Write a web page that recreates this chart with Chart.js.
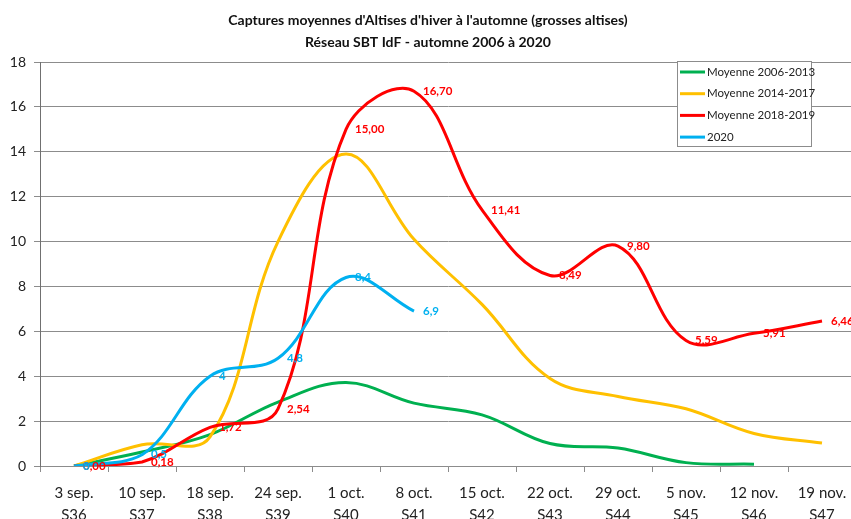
<!DOCTYPE html>
<html>
<head>
<meta charset="utf-8">
<script src="https://cdn.jsdelivr.net/npm/chart.js@4.4.1/dist/chart.umd.min.js"></script>
<style>
  html, body { margin: 0; padding: 0; background: #fff; overflow: hidden; }
</style>
</head>
<body>
<canvas id="myChart" width="860" height="530"></canvas>
<script>
// DATA ----------------------------------------
const semaines = [
    ["3 sep.", "S36"], ["10 sep.", "S37"], ["18 sep.", "S38"], ["24 sep.", "S39"],
    ["1 oct.", "S40"], ["8 oct.", "S41"], ["15 oct.", "S42"], ["22 oct.", "S43"],
    ["29 oct.", "S44"], ["5 nov.", "S45"], ["12 nov.", "S46"], ["19 nov.", "S47"]
];
const moy2006_2013 = [0, 0.62, 1.4, 2.85, 3.72, 2.8, 2.28, 1.0, 0.8, 0.15, 0.08, null];
const moy2014_2017 = [0, 0.95, 1.3, 10.0, 13.9, 10.1, 7.2, 3.9, 3.1, 2.55, 1.45, 1.02];
const moy2018_2019 = [0, 0.18, 1.72, 2.54, 15.0, 16.7, 11.41, 8.49, 9.8, 5.59, 5.91, 6.46];
const an2020 = [0, 0.5, 4, 4.8, 8.4, 6.9, null, null, null, null, null, null];
const yTicks = [0, 2, 4, 6, 8, 10, 12, 14, 16, 18];

const FONT = "Lato, 'Open Sans', sans-serif";

// valeurs en francais (virgule)
const fmt2 = v => v.toFixed(2).replace('.', ',');
const fmt1 = v => String(v).replace('.', ',');

// etiquettes de valeurs, a droite du point
const valueLabels = {
    id: 'valueLabels',
    afterDatasetsDraw(chart) {
        const c = chart.ctx;
        c.save();
        c.font = "bold 11.5px " + FONT;
        c.textAlign = 'left';
        c.textBaseline = 'middle';
        // rouge d'abord, bleu par dessus
        [2, 3].forEach(di => {
            const ds = chart.data.datasets[di];
            const meta = chart.getDatasetMeta(di);
            c.fillStyle = ds.borderColor;
            meta.data.forEach((pt, i) => {
                const v = ds.data[i];
                if (v === null || v === undefined) return;
                c.fillText(ds.fmt(v), pt.x + 9, pt.y);
            });
        });
        c.restore();
    }
};

// legende dans un cadre en haut a droite
const boxLegend = {
    id: 'boxLegend',
    afterDraw(chart) {
        const c = chart.ctx;
        const x = 677, y = 61, w = 134, h = 85;
        c.save();
        c.fillStyle = '#fff';
        c.fillRect(x, y, w, h);
        c.strokeStyle = '#8c8c8c';
        c.lineWidth = 1;
        c.strokeRect(x + 0.5, y + 0.5, w, h);
        c.font = "11.5px " + FONT;
        c.textBaseline = 'middle';
        c.textAlign = 'left';
        chart.data.datasets.forEach((ds, i) => {
            const ly = y + 11 + i * 21.7;
            c.strokeStyle = ds.borderColor;
            c.lineWidth = 3;
            c.beginPath();
            c.moveTo(x + 3, ly);
            c.lineTo(x + 28, ly);
            c.stroke();
            c.fillStyle = '#222';
            c.fillText(ds.label, x + 30, ly);
        });
        c.restore();
    }
};

function serie(label, data, color, order, fmt) {
    return {
        label: label,
        data: data,
        borderColor: color,
        backgroundColor: color,
        borderWidth: 3,
        pointRadius: 0,
        tension: 0.38,
        spanGaps: false,
        order: order,
        fmt: fmt
    };
}

const ctx = document.getElementById('myChart');
const chart = new Chart(ctx, {
    type: 'line',
    data: {
        labels: semaines,
        datasets: [
            serie('Moyenne 2006-2013', moy2006_2013, '#00B050', 3, fmt2),
            serie('Moyenne 2014-2017', moy2014_2017, '#FFC000', 2, fmt2),
            serie('Moyenne 2018-2019', moy2018_2019, '#FF0000', 1, fmt2),
            serie('2020', an2020, '#00B0F0', 0, fmt1)
        ]
    },
    options: {
        responsive: false,
        animation: false,
        layout: { padding: { left: 0, right: 4, top: 0, bottom: 0 } },
        plugins: {
            legend: { display: false },
            tooltip: { enabled: false },
            title: {
                display: true,
                text: ["Captures moyennes d'Altises d'hiver à l'automne (grosses altises)",
                       "Réseau SBT IdF - automne 2006 à 2020"],
                color: '#111',
                font: { family: FONT, size: 14, weight: 'bold', lineHeight: 22 / 14 },
                padding: { top: 9, bottom: 9 }
            }
        },
        scales: {
            x: {
                offset: true,
                grid: { display: true, drawOnChartArea: false, drawTicks: true, tickLength: 6, offset: true, color: '#8c8c8c' },
                border: { display: true, color: '#8c8c8c', width: 1 },
                ticks: { color: '#222', font: { family: FONT, size: 15, lineHeight: 22 / 15 }, padding: 10, maxRotation: 0, autoSkip: false },
                afterFit: s => { s.height = 64; }
            },
            y: {
                min: 0,
                max: 18,
                afterBuildTicks: s => { s.ticks = yTicks.map(v => ({ value: v })); },
                grid: { color: '#8c8c8c', tickLength: 6, lineWidth: 1 },
                border: { display: true, color: '#707070', width: 1 },
                ticks: { color: '#222', font: { family: FONT, size: 14 }, padding: 8 },
                afterFit: s => { s.width = 40; }
            }
        }
    },
    plugins: [valueLabels, boxLegend]
});
</script>
</body>
</html>
